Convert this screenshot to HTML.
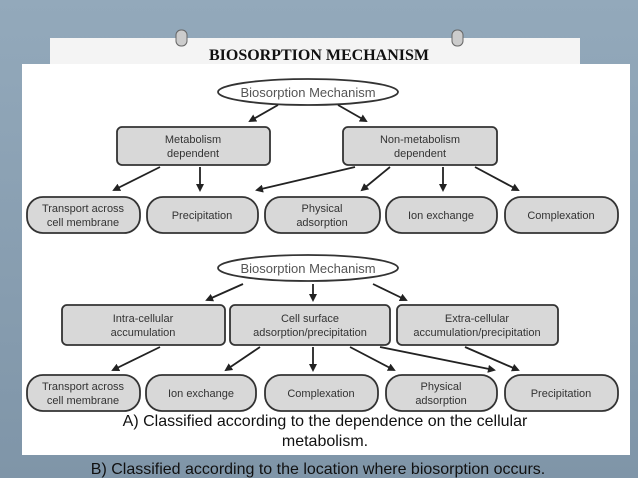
<!DOCTYPE html>
<html><head><meta charset="utf-8"><style>
html,body{margin:0;padding:0}
body{width:638px;height:478px;overflow:hidden;background:#8da3b6;position:relative;font-family:"Liberation Sans",sans-serif}
</style></head><body>
<svg width="638" height="478" viewBox="0 0 638 478" xmlns="http://www.w3.org/2000/svg" style="position:absolute;left:0;top:0">
<defs>
<marker id="a" markerWidth="8" markerHeight="8" refX="6" refY="4" orient="auto" markerUnits="userSpaceOnUse"><path d="M0,0 L8,4 L0,8 Z" fill="#222"/></marker>
<linearGradient id="bg" x1="0" y1="0" x2="0" y2="1"><stop offset="0" stop-color="#93a9bb"/><stop offset="1" stop-color="#7f95a8"/></linearGradient>
</defs>
<rect width="638" height="478" fill="url(#bg)"/>
<rect x="50" y="38" width="530" height="26" fill="#f4f4f4"/>
<rect x="22" y="64" width="608" height="391" fill="#fff"/>
<g fill="#ccc" stroke="#666" stroke-width="1"><rect x="176" y="30" width="11" height="16" rx="5"/><rect x="452" y="30" width="11" height="16" rx="5"/></g>
<text x="319" y="60" text-anchor="middle" font-family="Liberation Serif" font-weight="bold" font-size="16" fill="#111">BIOSORPTION MECHANISM</text>
<g stroke="#333" stroke-width="1.8" fill="#d8d8d8">
<ellipse cx="308" cy="92" rx="90" ry="13" fill="#fff"/>
<rect x="117" y="127" width="153" height="38" rx="5"/>
<rect x="343" y="127" width="154" height="38" rx="5"/>
<rect x="27" y="197" width="113" height="36" rx="16"/>
<rect x="147" y="197" width="111" height="36" rx="16"/>
<rect x="265" y="197" width="115" height="36" rx="16"/>
<rect x="386" y="197" width="111" height="36" rx="16"/>
<rect x="505" y="197" width="113" height="36" rx="16"/>
<ellipse cx="308" cy="268" rx="90" ry="13" fill="#fff"/>
<rect x="62" y="305" width="163" height="40" rx="5"/>
<rect x="230" y="305" width="160" height="40" rx="5"/>
<rect x="397" y="305" width="161" height="40" rx="5"/>
<rect x="27" y="375" width="113" height="36" rx="16"/>
<rect x="146" y="375" width="110" height="36" rx="16"/>
<rect x="265" y="375" width="113" height="36" rx="16"/>
<rect x="386" y="375" width="111" height="36" rx="16"/>
<rect x="505" y="375" width="113" height="36" rx="16"/>
</g>
<g stroke="#222" stroke-width="1.8" marker-end="url(#a)">
<line x1="278" y1="105" x2="250" y2="121"/><line x1="338" y1="105" x2="366" y2="121"/>
<line x1="160" y1="167" x2="114" y2="190"/><line x1="200" y1="167" x2="200" y2="190"/>
<line x1="355" y1="167" x2="257" y2="190"/><line x1="390" y1="167" x2="362" y2="190"/>
<line x1="443" y1="167" x2="443" y2="190"/><line x1="475" y1="167" x2="518" y2="190"/>
<line x1="243" y1="284" x2="207" y2="300"/><line x1="313" y1="284" x2="313" y2="300"/><line x1="373" y1="284" x2="406" y2="300"/>
<line x1="160" y1="347" x2="113" y2="370"/><line x1="260" y1="347" x2="226" y2="370"/>
<line x1="313" y1="347" x2="313" y2="370"/><line x1="350" y1="347" x2="394" y2="370"/>
<line x1="380" y1="347" x2="494" y2="370"/><line x1="465" y1="347" x2="518" y2="370"/>
</g>
<g font-size="11" fill="#333" text-anchor="middle">
<text x="308" y="97" font-size="13" fill="#555">Biosorption Mechanism</text>
<text x="193" y="143">Metabolism</text><text x="193" y="157">dependent</text>
<text x="420" y="143">Non-metabolism</text><text x="420" y="157">dependent</text>
<text x="83" y="212">Transport across</text><text x="83" y="226">cell membrane</text>
<text x="202" y="219">Precipitation</text>
<text x="322" y="212">Physical</text><text x="322" y="226">adsorption</text>
<text x="441" y="219">Ion exchange</text>
<text x="561" y="219">Complexation</text>
<text x="308" y="273" font-size="13" fill="#555">Biosorption Mechanism</text>
<text x="143" y="322">Intra-cellular</text><text x="143" y="336">accumulation</text>
<text x="310" y="322">Cell surface</text><text x="310" y="336">adsorption/precipitation</text>
<text x="477" y="322">Extra-cellular</text><text x="477" y="336">accumulation/precipitation</text>
<text x="83" y="390">Transport across</text><text x="83" y="404">cell membrane</text>
<text x="201" y="397">Ion exchange</text>
<text x="321" y="397">Complexation</text>
<text x="441" y="390">Physical</text><text x="441" y="404">adsorption</text>
<text x="561" y="397">Precipitation</text>
</g>
<g font-size="16" fill="#111" text-anchor="middle">
<text x="325" y="426">A)  Classified according to the dependence on the cellular</text>
<text x="325" y="446">metabolism.</text>
<text x="318" y="474">B) Classified according to the location where biosorption occurs.</text>
</g>
</svg>
</body></html>
